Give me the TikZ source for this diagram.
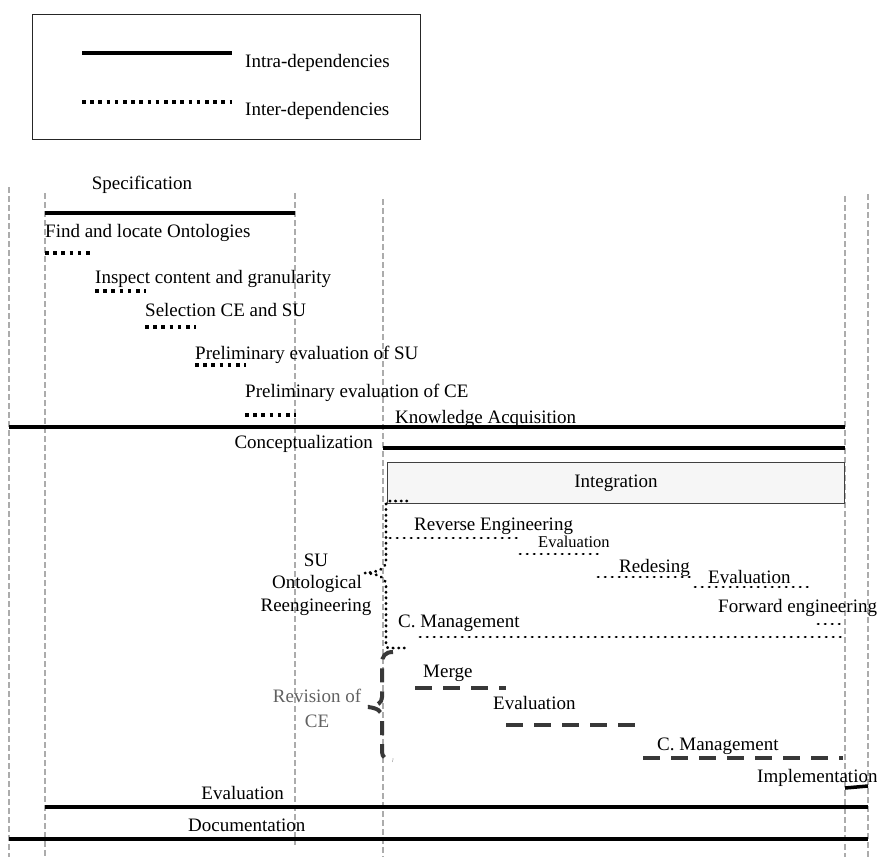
\documentclass[tikz,border=0pt]{standalone}
\usepackage{fontspec}
\setmainfont{Liberation Serif}
\begin{document}
\begin{tikzpicture}[x=1pt,y=-1pt,
  lbl/.style={anchor=base west, inner sep=0pt, font=\fontsize{19}{22}\selectfont},
  guide/.style={draw=gray!65, line width=1.1pt, dash pattern=on 6pt off 3pt},
  intra/.style={line width=4pt},
  inter/.style={line width=3.6pt, dash pattern=on 3.6pt off 4.6pt},
  interdot/.style={line width=2.9pt, line cap=round, dash pattern=on 0.4pt off 6.6pt},
  bracedot/.style={line width=2.9pt, line cap=round, dash pattern=on 0.4pt off 5.2pt},
  revdash/.style={draw=black!78, line width=4.2pt, dash pattern=on 17pt off 11pt},
  revbrace/.style={draw=black!78, line width=4pt, dash pattern=on 14pt off 9pt},
]
\useasboundingbox (0,0) rectangle (877,857);

% vertical phase guides
\draw[guide] (9,187) -- (9,857);
\draw[guide] (45,193) -- (45,857);
\draw[guide] (295,193) -- (295,845);
\draw[guide] (383,199) -- (383,857);
\draw[guide] (845,196) -- (845,857);
\draw[guide] (868,194) -- (868,857);

% legend
\draw[line width=1pt, draw=black!85] (32,14) rectangle (420,139);
\draw[intra] (82,53) -- (232,53);
\draw[inter] (82,102) -- (232,102);
\node[lbl] (intra) at (245,67) {Intra-dependencies};
\node[lbl] (inter) at (245,115) {Inter-dependencies};

% specification and its sub-activities
\node[lbl, anchor=base] (spec) at (142,189) {Specification};
\draw[intra] (45,213) -- (295,213);
\node[lbl] (find) at (45,237) {Find and locate Ontologies};
\draw[inter] (45,253) -- (94,253);
\node[lbl] (insp) at (95,283) {Inspect content and granularity};
\draw[inter] (95,291) -- (146,291);
\node[lbl] (sel) at (145,316) {Selection CE and SU};
\draw[inter] (145,327) -- (196,327);
\node[lbl] (psu) at (195,359) {Preliminary evaluation of SU};
\draw[inter] (195,365) -- (246,365);
\node[lbl] (pce) at (245,397) {Preliminary evaluation of CE};
\draw[inter] (245,415) -- (296,415);

% knowledge acquisition and conceptualization
\node[lbl] (ka) at (395,423) {Knowledge Acquisition};
\draw[intra] (9,427) -- (845,427);
\node[lbl, anchor=base east] (conc) at (373,448) {Conceptualization};
\draw[intra] (383,448) -- (845,448);

% integration
\node[draw=black!75, fill=gray!7, line width=1pt, minimum width=457pt,
      minimum height=41pt, inner sep=0pt, anchor=north west,
      font=\fontsize{19}{22}\selectfont] (integ) at (387,462) {Integration};

% SU ontological reengineering brace
\draw[bracedot] (407,501) -- (392,501) .. controls (386,501) .. (386,508)
  -- (386,560) .. controls (386,568) and (380,572) .. (365,573);
\draw[bracedot] (365,573) .. controls (380,574) and (386,578) .. (386,586)
  -- (386,642) .. controls (386,648) .. (392,648) -- (407,648);
\node[lbl, anchor=base] (su1) at (316,566) {SU};
\node[lbl, anchor=base] (su2) at (317,588) {Ontological};
\node[lbl, anchor=base] (su3) at (316,611) {Reengineering};

\node[lbl] (rev) at (414,530) {Reverse Engineering};
\draw[interdot] (390,538) -- (518,538);
\node[lbl, font=\fontsize{16.5}{20}\selectfont] (ev1) at (538,547) {Evaluation};
\draw[interdot] (520,554) -- (600,554);
\node[lbl] (red) at (619,572) {Redesing};
\draw[interdot] (598,577) -- (693,577);
\node[lbl] (ev2) at (708,583) {Evaluation};
\draw[interdot] (695,587) -- (813,587);
\node[lbl] (fwd) at (718,612) {Forward engineering};
\draw[interdot] (818,624) -- (845,624);
\node[lbl] (cm1) at (398,627) {C. Management};
\draw[interdot] (420,637) -- (845,637);

% revision of CE brace
\draw[revbrace] (393,652) .. controls (385,652) and (382,656) .. (382,664)
  -- (382,697) .. controls (382,703) and (377,706) .. (368,707);
\draw[revbrace] (368,707) .. controls (377,708) and (382,711) .. (382,717)
  -- (382,752) .. controls (382,757) and (386,760) .. (393,760);
\node[lbl, anchor=base, text=black!62] (rv1) at (317,702) {Revision of};
\node[lbl, anchor=base, text=black!62] (rv2) at (317,727) {CE};

\node[lbl] (mrg) at (423,677) {Merge};
\draw[revdash] (415,688) -- (506,688);
\node[lbl] (ev3) at (493,709) {Evaluation};
\draw[revdash] (506,725) -- (645,725);
\node[lbl] (cm2) at (657,750) {C. Management};
\draw[revdash] (643,758) -- (843,758);

% implementation, evaluation, documentation
\node[lbl] (impl) at (757,782) {Implementation};
\draw[line width=3.5pt] (845,788) -- (868,786);
\node[lbl, anchor=base east] (eval) at (284,799) {Evaluation};
\draw[intra] (45,807) -- (868,807);
\node[lbl] (doc) at (188,831) {Documentation};
\draw[intra] (9,839) -- (868,839);
\end{tikzpicture}
\end{document}
